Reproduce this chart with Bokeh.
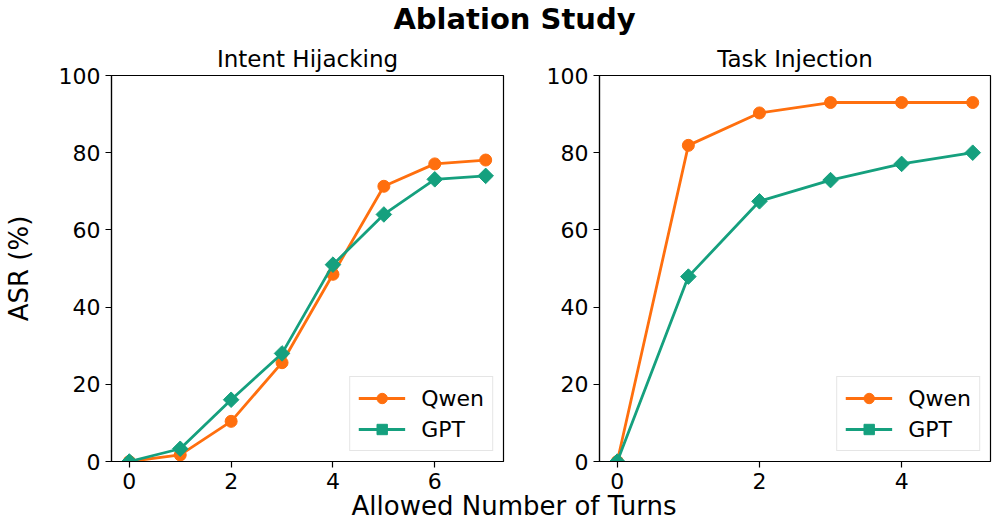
from bokeh.plotting import figure
from bokeh.layouts import column, row
from bokeh.models import Range1d, FixedTicker, Label
from bokeh.embed import file_html
from bokeh.resources import INLINE

FONT = "DejaVu Sans"
QWEN_COLOR = "#ff6f0e"
GPT_COLOR = "#15a07e"

# ---- data ----
suptitle = "Ablation Study"
xlabel = "Allowed Number of Turns"
ylabel = "ASR (%)"
series_names = ["Qwen", "GPT"]

hijack_title = "Intent Hijacking"
hijack_turns = [0, 1, 2, 3, 4, 5, 6, 7]
hijack_qwen = [0, 1.7, 10.4, 25.6, 48.5, 71.3, 77.1, 78.1]
hijack_gpt = [0, 3.3, 16.0, 28.0, 51.0, 64.0, 73.1, 74.0]
hijack_xticks = [0, 2, 4, 6]

inject_title = "Task Injection"
inject_turns = [0, 1, 2, 3, 4, 5]
inject_qwen = [0, 81.9, 90.3, 93.0, 93.0, 93.0]
inject_gpt = [0, 47.9, 67.4, 72.9, 77.1, 80.0]
inject_xticks = [0, 2, 4]

yticks = [0, 20, 40, 60, 80, 100]


def make_panel(title, xs, qwen, gpt, xticks, width, mbl, mbr, with_ylabel):
    pad = 0.05 * (max(xs) - min(xs))
    p = figure(width=width, height=458,
               x_range=Range1d(min(xs) - pad, max(xs) + pad),
               y_range=Range1d(0, 100),
               output_backend="svg", toolbar_location=None,
               min_border_left=mbl, min_border_right=mbr,
               min_border_top=34, min_border_bottom=37)
    p.title.text = title
    p.title.align = "center"
    p.title.text_font = FONT
    p.title.text_font_size = "23px"
    p.title.text_font_style = "normal"
    p.title.text_color = "black"
    p.title.standoff = 7

    p.xgrid.visible = False
    p.ygrid.visible = False
    p.outline_line_color = "black"
    p.outline_line_width = 1.2
    p.background_fill_color = "white"
    p.border_fill_color = "white"

    p.xaxis.ticker = FixedTicker(ticks=xticks)
    p.yaxis.ticker = FixedTicker(ticks=yticks)
    for ax in (p.xaxis, p.yaxis):
        ax.axis_line_color = "black"
        ax.axis_line_width = 1.2
        ax.major_tick_line_color = "black"
        ax.major_tick_line_width = 1.2
        ax.major_tick_out = 6
        ax.major_tick_in = 0
        ax.minor_tick_line_color = None
        ax.major_label_text_font = FONT
        ax.major_label_text_font_size = "22px"
        ax.major_label_text_color = "black"
    p.xaxis.major_label_standoff = 5
    p.yaxis.major_label_standoff = 5
    if with_ylabel:
        p.yaxis.axis_label = ylabel
        p.yaxis.axis_label_text_font = FONT
        p.yaxis.axis_label_text_font_size = "26px"
        p.yaxis.axis_label_text_font_style = "normal"
        p.yaxis.axis_label_text_color = "black"
        p.yaxis.axis_label_standoff = 22

    p.line(xs, qwen, color=QWEN_COLOR, line_width=2.8, legend_label=series_names[0])
    p.scatter(xs, qwen, marker="circle", size=12, color=QWEN_COLOR,
              legend_label=series_names[0])
    p.line(xs, gpt, color=GPT_COLOR, line_width=2.8, legend_label=series_names[1])
    p.scatter(xs, gpt, marker="square", angle=0.785398, size=11, color=GPT_COLOR,
              legend_label=series_names[1])

    lg = p.legend[0]
    lg.location = "bottom_right"
    lg.margin = 10
    lg.padding = 8
    lg.spacing = 5
    lg.glyph_width = 47
    lg.glyph_height = 26
    lg.label_standoff = 16
    lg.label_text_font = FONT
    lg.label_text_font_size = "22px"
    lg.label_text_color = "black"
    lg.border_line_color = "#cccccc"
    lg.border_line_width = 1
    lg.background_fill_alpha = 0.8
    return p


left = make_panel(hijack_title, hijack_turns, hijack_qwen, hijack_gpt, hijack_xticks,
                  width=537, mbl=111, mbr=34, with_ylabel=True)
right = make_panel(inject_title, inject_turns, inject_qwen, inject_gpt, inject_xticks,
                   width=455, mbl=62, mbr=2, with_ylabel=False)


def text_strip(height, text, x, y, size, style, margin=None):
    f = figure(width=992, height=height, x_range=Range1d(0, 992), y_range=Range1d(0, height),
               x_axis_type=None, y_axis_type=None, output_backend="svg",
               toolbar_location=None, min_border=0, title=None)
    if margin is not None:
        f.margin = margin
    f.xgrid.visible = False
    f.ygrid.visible = False
    f.outline_line_color = None
    f.background_fill_alpha = 0
    f.border_fill_alpha = 0
    f.add_layout(Label(x=x, y=y, text=text, text_font=FONT, text_font_size=size,
                       text_font_style=style, text_align="center",
                       text_baseline="alphabetic", text_color="black"))
    return f


top = text_strip(40, suptitle, 514, 22, "29px", "bold")
bottom = text_strip(39, xlabel, 513.5, 20, "26px", "normal", margin=(-12, 0, 0, 0))

layout = column(top, row(left, right), bottom)

open("out.html", "w").write(file_html(layout, INLINE))
